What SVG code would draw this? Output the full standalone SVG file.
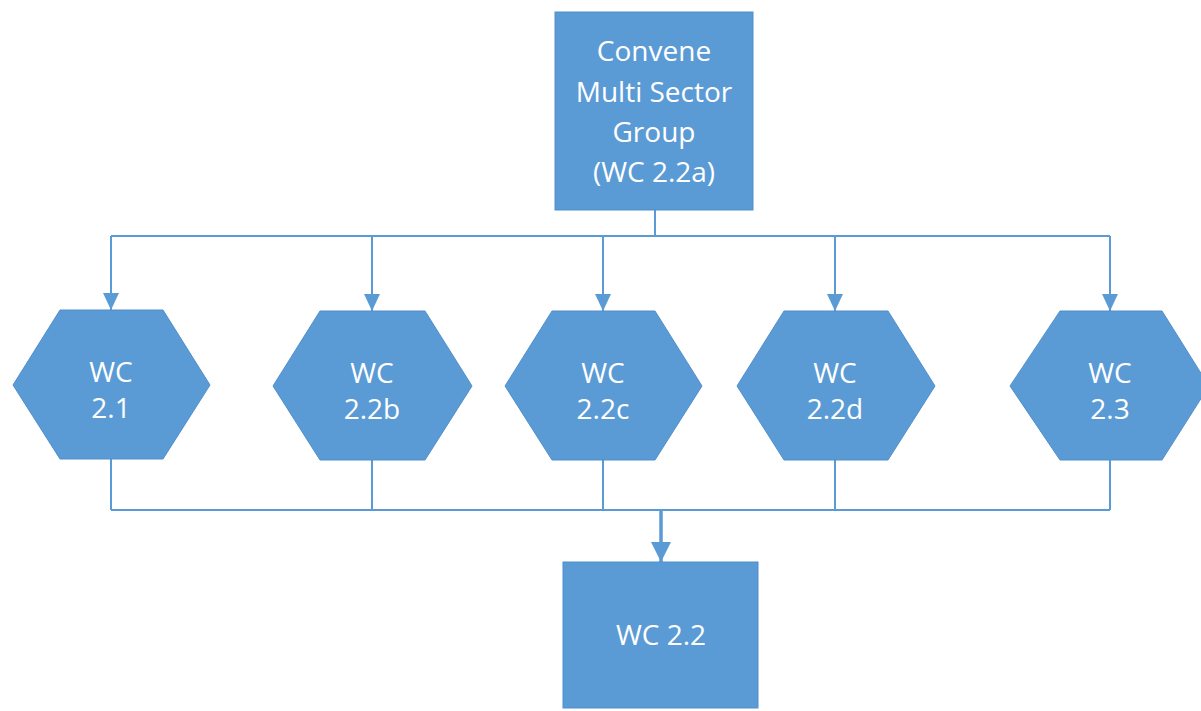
<svg xmlns="http://www.w3.org/2000/svg" width="1201" height="711" viewBox="0 0 1201 711">
  <defs>
    <marker id="arrow" viewBox="0 0 17 16" refX="17" refY="8" markerWidth="17" markerHeight="16" markerUnits="userSpaceOnUse" orient="auto">
      <path d="M0,0 L17,8 L0,16 Z" fill="#5b9bd5"/>
    </marker>
    <marker id="arrowBig" viewBox="0 0 20 20" refX="20" refY="10" markerWidth="20" markerHeight="20" markerUnits="userSpaceOnUse" orient="auto">
      <path d="M0,0 L20,10 L0,20 Z" fill="#5b9bd5"/>
    </marker>
    <style>
      .shape { fill: #5b9bd5; stroke: #4f8fcb; stroke-width: 1; }
      .label { font-family: "Open Sans", "Liberation Sans", sans-serif; font-size: 28px; fill: #ffffff; text-anchor: middle; }
      .wire { fill: none; stroke: #5b9bd5; stroke-width: 2; }
      .wire-main { fill: none; stroke: #5b9bd5; stroke-width: 3.5; }
    </style>
  </defs>
  <rect width="1201" height="711" fill="#ffffff"/>

  <g id="connectors">
    <!-- fan-out from the convening group -->
    <path class="wire" d="M655,210 V236 M111,236 H1110"/>
    <path class="wire" d="M111,236 V310" marker-end="url(#arrow)"/>
    <path class="wire" d="M372,236 V311" marker-end="url(#arrow)"/>
    <path class="wire" d="M603,236 V311" marker-end="url(#arrow)"/>
    <path class="wire" d="M835,236 V311" marker-end="url(#arrow)"/>
    <path class="wire" d="M1110,236 V311" marker-end="url(#arrow)"/>
    <!-- fan-in to WC 2.2 -->
    <path class="wire" d="M111,459 V510 M372,460 V510 M603,460 V510 M835,460 V510 M1110,460 V510 M111,510 H1110"/>
    <path class="wire-main" d="M661,510 V562" marker-end="url(#arrowBig)"/>
  </g>

  <g id="node-convene">
    <rect class="shape" x="555" y="12" width="198" height="198"/>
    <text class="label" x="654" y="61">Convene</text>
    <text class="label" x="654" y="102">Multi Sector</text>
    <text class="label" x="654" y="142">Group</text>
    <text class="label" x="654" y="182">(WC 2.2a)</text>
  </g>

  <g id="node-wc21">
    <polygon class="shape" points="60,310 163,310 210,385 163,459 60,459 13,385"/>
    <text class="label" x="111" y="382">WC</text>
    <text class="label" x="111" y="418">2.1</text>
  </g>

  <g id="node-wc22b">
    <polygon class="shape" points="320,311 425,311 472,386 425,460 320,460 273,386"/>
    <text class="label" x="372" y="383">WC</text>
    <text class="label" x="372" y="419">2.2b</text>
  </g>

  <g id="node-wc22c">
    <polygon class="shape" points="552,311 655,311 702,386 655,460 552,460 505,386"/>
    <text class="label" x="603" y="383">WC</text>
    <text class="label" x="603" y="419">2.2c</text>
  </g>

  <g id="node-wc22d">
    <polygon class="shape" points="784,311 888,311 935,386 888,460 784,460 737,386"/>
    <text class="label" x="835" y="383">WC</text>
    <text class="label" x="835" y="419">2.2d</text>
  </g>

  <g id="node-wc23">
    <polygon class="shape" points="1060,311 1162,311 1209,386 1162,460 1060,460 1010,386"/>
    <text class="label" x="1110" y="383">WC</text>
    <text class="label" x="1110" y="419">2.3</text>
  </g>

  <g id="node-wc22">
    <rect class="shape" x="563" y="562" width="195" height="146"/>
    <text class="label" x="661" y="645">WC 2.2</text>
  </g>
</svg>
